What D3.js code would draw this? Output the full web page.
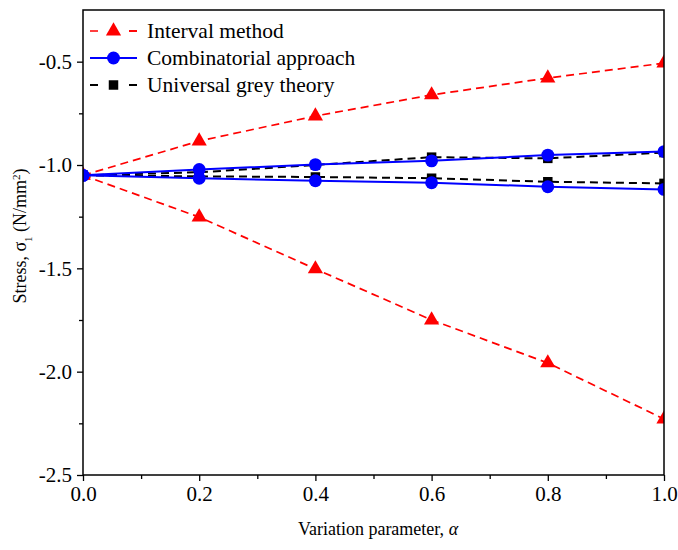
<!DOCTYPE html>
<html>
<head>
<meta charset="utf-8">
<script src="https://cdn.jsdelivr.net/npm/d3@7"></script>
<style>
  html, body { margin: 0; padding: 0; background: #fff; }
  svg { display: block; font-family: "Liberation Serif", "Times New Roman", serif; }
</style>
</head>
<body>
<svg id="chart" width="678" height="550"></svg>
<script>
// Variation parameter values
const alpha = [0.0, 0.2, 0.4, 0.6, 0.8, 1.0];

// Interval method bounds
const intervalUpper = [-1.05, -0.884, -0.763, -0.661, -0.579, -0.507];
const intervalLower = [-1.05, -1.252, -1.503, -1.750, -1.958, -2.229];

// Combinatorial approach bounds
const combUpper = [-1.05, -1.022, -0.998, -0.980, -0.952, -0.935];
const combLower = [-1.05, -1.064, -1.076, -1.086, -1.105, -1.118];

// Universal grey theory bounds
const greyUpper = [-1.05, -1.035, -1.000, -0.962, -0.968, -0.940];
const greyLower = [-1.05, -1.055, -1.058, -1.064, -1.081, -1.089];

const xTicks = [0.0, 0.2, 0.4, 0.6, 0.8, 1.0];
const xMinor = [0.1, 0.3, 0.5, 0.7, 0.9];
const yTicks = [-2.5, -2.0, -1.5, -1.0, -0.5];
const yMinor = [-2.25, -1.75, -1.25, -0.75];

const legendNames = ["Interval method", "Combinatorial approach", "Universal grey theory"];

const svg = d3.select("#chart");
const m = { left: 83, right: 664, top: 10, bottom: 475 };

const x = d3.scaleLinear().domain([0, 1]).range([m.left, m.right]);
const y = d3.scaleLinear().domain([-2.5, -0.25]).range([m.bottom, m.top]);

// clip region for the plotted series
svg.append("defs").append("clipPath").attr("id", "plotClip")
  .append("rect")
  .attr("x", m.left).attr("y", m.top)
  .attr("width", m.right - m.left).attr("height", m.bottom - m.top);

const plot = svg.append("g").attr("clip-path", "url(#plotClip)");

const line = d3.line().x((d, i) => x(alpha[i])).y(d => y(d));

const tri = d3.symbol().type(d3.symbolTriangle).size(100);
const circ = d3.symbol().type(d3.symbolCircle).size(130);
const sq = d3.symbol().type(d3.symbolSquare).size(90);

function series(values, color, width, dash, sym) {
  plot.append("path")
    .datum(values)
    .attr("d", line)
    .attr("fill", "none")
    .attr("stroke", color)
    .attr("stroke-width", width)
    .attr("stroke-dasharray", dash);
  plot.selectAll(null)
    .data(values)
    .enter().append("path")
    .attr("d", sym)
    .attr("transform", (d, i) => `translate(${x(alpha[i])},${y(d)})`)
    .attr("fill", color);
}

const red = "#ff0000", blue = "#0000ff", black = "#000000";

series(intervalUpper, red, 1.7, "8,5", tri);
series(intervalLower, red, 1.7, "8,5", tri);
series(greyUpper, black, 2, "8,5", sq);
series(greyLower, black, 2, "8,5", sq);
series(combUpper, blue, 2, null, circ);
series(combLower, blue, 2, null, circ);

// Axes
const xAxis = svg.append("g")
  .attr("transform", `translate(0,${m.bottom})`)
  .call(d3.axisBottom(x).tickValues(xTicks).tickFormat(d3.format(".1f")).tickSizeOuter(0).tickSize(6).tickPadding(5));
const xMinorAxis = svg.append("g")
  .attr("transform", `translate(0,${m.bottom})`)
  .call(d3.axisBottom(x).tickValues(xMinor).tickFormat("").tickSizeOuter(0).tickSize(4));

const yAxis = svg.append("g")
  .attr("transform", `translate(${m.left},0)`)
  .call(d3.axisLeft(y).tickValues(yTicks).tickFormat(d3.format(".1f")).tickSizeOuter(0).tickSize(6).tickPadding(5));
const yMinorAxis = svg.append("g")
  .attr("transform", `translate(${m.left},0)`)
  .call(d3.axisLeft(y).tickValues(yMinor).tickFormat("").tickSizeOuter(0).tickSize(4));

[xAxis, xMinorAxis, yAxis, yMinorAxis].forEach(g => {
  g.selectAll(".domain").remove();
  g.selectAll("line").attr("stroke", "#000").attr("stroke-width", 1.3);
  g.selectAll("text").attr("fill", "#000").style("font-size", "21px")
    .style("font-family", "'Liberation Serif', serif");
});
// plain hyphen-minus on negative labels
yAxis.selectAll("text").text(d => d.toFixed(1));

// frame
svg.append("rect")
  .attr("x", m.left).attr("y", m.top)
  .attr("width", m.right - m.left).attr("height", m.bottom - m.top)
  .attr("fill", "none").attr("stroke", "#000").attr("stroke-width", 1.5);

// Axis titles
const xt = svg.append("text")
  .attr("x", 378).attr("y", 535)
  .attr("text-anchor", "middle")
  .style("font-size", "18px");
xt.append("tspan").text("Variation parameter, ");
xt.append("tspan").style("font-style", "italic").text("α");

const yt = svg.append("text")
  .attr("transform", `translate(26,236) rotate(-90)`)
  .attr("text-anchor", "middle")
  .style("font-size", "18px");
yt.append("tspan").text("Stress, σ");
yt.append("tspan").attr("baseline-shift", "sub").style("font-size", "11px").text("1");
yt.append("tspan").text(" (N/mm");
yt.append("tspan").attr("baseline-shift", "super").style("font-size", "11px").text("2");
yt.append("tspan").text(")");

// Legend
const legendItems = [
  { name: legendNames[0], color: red, dash: true, sym: tri, w: 1.7 },
  { name: legendNames[1], color: blue, dash: false, sym: circ, w: 2 },
  { name: legendNames[2], color: black, dash: true, sym: sq, w: 2 }
];
const lg = svg.append("g");
legendItems.forEach((it, i) => {
  const cy = 31 + i * 27;
  lg.append("line")
    .attr("x1", 90).attr("x2", 137).attr("y1", cy).attr("y2", cy)
    .attr("stroke", it.color).attr("stroke-width", it.w)
    .attr("stroke-dasharray", it.dash ? "8,31" : null);
  lg.append("line")
    .attr("x1", 129).attr("x2", 137).attr("y1", cy).attr("y2", cy)
    .attr("stroke", it.dash ? it.color : "none").attr("stroke-width", it.w);
  lg.append("path").attr("d", it.sym)
    .attr("transform", `translate(113.5,${cy})`).attr("fill", it.color);
  lg.append("text").attr("x", 147).attr("y", cy + 7)
    .style("font-size", "21.5px").attr("fill", "#000").text(it.name);
});
</script>
</body>
</html>
